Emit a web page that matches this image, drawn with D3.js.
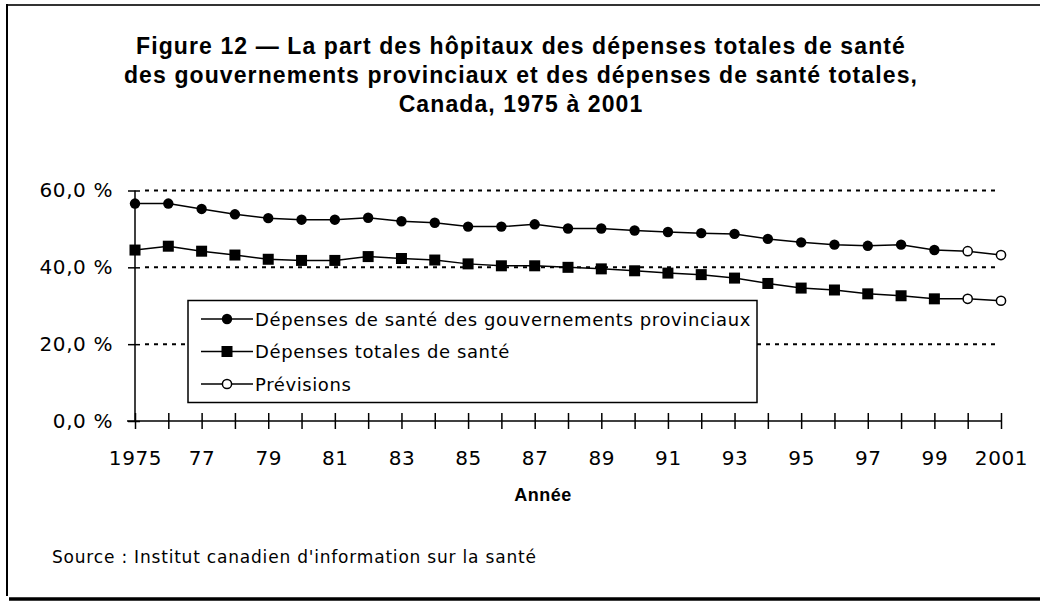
<!DOCTYPE html>
<html>
<head>
<meta charset="utf-8">
<script src="https://cdn.jsdelivr.net/npm/d3@7"></script>
<style>
  body { margin: 0; background: #fff; }
  svg { display: block; }
</style>
</head>
<body>
<svg id="chart"></svg>
<script>
const years = [1975, 1976, 1977, 1978, 1979, 1980, 1981, 1982, 1983, 1984, 1985, 1986, 1987, 1988,
               1989, 1990, 1991, 1992, 1993, 1994, 1995, 1996, 1997, 1998, 1999, 2000, 2001];
const provincial = [56.6, 56.6, 55.2, 53.8, 52.8, 52.4, 52.4, 52.9, 52.0, 51.6, 50.6, 50.6, 51.2, 50.1,
                    50.1, 49.6, 49.2, 48.9, 48.7, 47.4, 46.5, 45.9, 45.6, 45.9, 44.5, 44.2, 43.2];
const totalHealth = [44.5, 45.5, 44.2, 43.2, 42.1, 41.8, 41.8, 42.8, 42.3, 41.9, 40.9, 40.4, 40.4, 40.0,
                     39.6, 39.1, 38.5, 38.1, 37.2, 35.8, 34.6, 34.1, 33.1, 32.6, 31.8, 31.8, 31.3];
const forecastFrom = 2000;
const yTicks = [0, 20, 40, 60];
const xLabelYears = [1975, 1977, 1979, 1981, 1983, 1985, 1987, 1989, 1991, 1993, 1995, 1997, 1999, 2001];
const xLabels = ["1975", "77", "79", "81", "83", "85", "87", "89", "91", "93", "95", "97", "99", "2001"];
const legendLabels = ["Dépenses de santé des gouvernements provinciaux", "Dépenses totales de santé", "Prévisions"];
const titleLines = ["Figure 12 — La part des hôpitaux des dépenses totales de santé",
                    "des gouvernements provinciaux et des dépenses de santé totales,",
                    "Canada, 1975 à 2001"];
const xTitle = "Année";
const source = "Source : Institut canadien d'information sur la santé";

const width = 1040, height = 601;
const plot = { left: 135, right: 1001, top: 190.5, bottom: 421 };
const labelFont = "'DejaVu Sans', Verdana, sans-serif";
const titleFont = "'Liberation Sans', Arial, sans-serif";

const svg = d3.select("#chart").attr("width", width).attr("height", height);

// frame
svg.append("line").attr("x1", 6).attr("x2", width).attr("y1", 5).attr("y2", 5)
   .attr("stroke", "#333").attr("stroke-width", 2);
svg.append("line").attr("x1", 7).attr("x2", 7).attr("y1", 4).attr("y2", 596)
   .attr("stroke", "#000").attr("stroke-width", 2);
svg.append("line").attr("x1", 9).attr("x2", width).attr("y1", 599).attr("y2", 599)
   .attr("stroke", "#000").attr("stroke-width", 3.5);

// title
svg.append("g").selectAll("text")
   .data(titleLines)
   .enter()
   .append("text")
     .attr("x", 521)
     .attr("y", (d, i) => 54 + i * 29)
     .attr("text-anchor", "middle")
     .style("font", `bold 23px ${titleFont}`)
     .style("letter-spacing", "1.1px")
     .text(d => d);

// scales
const x = d3.scaleLinear().domain([1975, 2001]).range([plot.left, plot.right]);
const y = d3.scaleLinear().domain([0, 60]).range([plot.bottom, plot.top]);

// gridlines
svg.append("g").selectAll("line")
   .data(yTicks.filter(d => d > 0))
   .enter()
   .append("line")
     .attr("x1", 145).attr("x2", 995)
     .attr("y1", d => y(d)).attr("y2", d => y(d))
     .attr("stroke", "#000").attr("stroke-width", 2)
     .attr("stroke-dasharray", "4,5");

// axes
const yAxis = d3.axisLeft(y)
                .tickValues(yTicks)
                .tickFormat(d => d3.format(".1f")(d).replace(".", ",") + " %")
                .tickSize(7)
                .tickPadding(15);
const gy = svg.append("g").attr("transform", `translate(${plot.left},0)`).call(yAxis);
gy.select(".domain").remove();
gy.selectAll(".tick line").attr("x1", 5).attr("stroke-width", 1.5);
gy.selectAll("text").style("font", `20px ${labelFont}`).style("letter-spacing", "0.6px").attr("fill", "#000");
gy.append("line").attr("x1", 0).attr("x2", 0).attr("y1", plot.top).attr("y2", plot.bottom)
  .attr("stroke", "#000").attr("stroke-width", 1.5);

const xAxis = d3.axisBottom(x)
                .tickValues(years)
                .tickFormat(d => { const i = xLabelYears.indexOf(d); return i < 0 ? "" : xLabels[i]; })
                .tickSize(8)
                .tickPadding(22);
const gx = svg.append("g").attr("transform", `translate(0,${plot.bottom})`).call(xAxis);
gx.select(".domain").remove();
gx.selectAll(".tick line").attr("y1", -8).attr("stroke-width", 1.5);
gx.selectAll("text").style("font", `20px ${labelFont}`).style("letter-spacing", "0.6px").attr("fill", "#000");
gx.append("line").attr("x1", 127).attr("x2", plot.right).attr("y1", 0).attr("y2", 0)
  .attr("stroke", "#000").attr("stroke-width", 1.5);

svg.append("text")
   .attr("x", 543).attr("y", 501)
   .attr("text-anchor", "middle")
   .style("font", `bold 18px ${titleFont}`)
   .style("letter-spacing", "0.5px")
   .text(xTitle);

svg.append("text")
   .attr("x", 52).attr("y", 563)
   .style("font", `17px ${labelFont}`)
   .style("letter-spacing", "0.8px")
   .text(source);

// legend box (drawn over gridlines)
const legend = svg.append("g");
legend.append("rect")
      .attr("x", 188).attr("y", 300.5).attr("width", 569).attr("height", 102)
      .attr("fill", "#fff").attr("stroke", "#000").attr("stroke-width", 1.5);

// series
const series = [
  { values: provincial, shape: "circle" },
  { values: totalHealth, shape: "square" }
];
const line = d3.line().x(d => x(d.year)).y(d => y(d.value));

series.forEach(s => {
  const pts = years.map((yr, i) => ({ year: yr, value: s.values[i] }));
  svg.append("path")
     .datum(pts)
     .attr("d", line)
     .attr("fill", "none")
     .attr("stroke", "#000")
     .attr("stroke-width", 1.5);

  const solid = pts.filter(d => d.year < forecastFrom);
  const fc = pts.filter(d => d.year >= forecastFrom);
  if (s.shape === "circle") {
    svg.append("g").selectAll("circle").data(solid).enter().append("circle")
       .attr("cx", d => x(d.year)).attr("cy", d => y(d.value)).attr("r", 5.2).attr("fill", "#000");
  } else {
    svg.append("g").selectAll("rect").data(solid).enter().append("rect")
       .attr("x", d => x(d.year) - 5.5).attr("y", d => y(d.value) - 5.5)
       .attr("width", 11).attr("height", 11).attr("fill", "#000");
  }
  svg.append("g").selectAll("circle").data(fc).enter().append("circle")
     .attr("cx", d => x(d.year)).attr("cy", d => y(d.value)).attr("r", 4.6)
     .attr("fill", "#fff").attr("stroke", "#000").attr("stroke-width", 1.5);
});

// legend entries
const rows = legend.selectAll(".row")
                   .data(legendLabels)
                   .enter()
                   .append("g")
                     .attr("transform", (d, i) => `translate(0,${319 + i * 32.5})`);
rows.append("line").attr("x1", 201).attr("x2", 253).attr("y1", 0).attr("y2", 0)
    .attr("stroke", "#000").attr("stroke-width", 1.5);
rows.filter((d, i) => i === 0).append("circle").attr("cx", 227).attr("cy", 0).attr("r", 5.2).attr("fill", "#000");
rows.filter((d, i) => i === 1).append("rect").attr("x", 221.5).attr("y", -5.5).attr("width", 11).attr("height", 11).attr("fill", "#000");
rows.filter((d, i) => i === 2).append("circle").attr("cx", 227).attr("cy", 0).attr("r", 4.6)
    .attr("fill", "#fff").attr("stroke", "#000").attr("stroke-width", 1.5);
rows.append("text")
    .attr("x", 255).attr("y", 6.5)
    .style("font", `18px ${labelFont}`)
    .style("letter-spacing", "0.6px")
    .text(d => d);
</script>
</body>
</html>
